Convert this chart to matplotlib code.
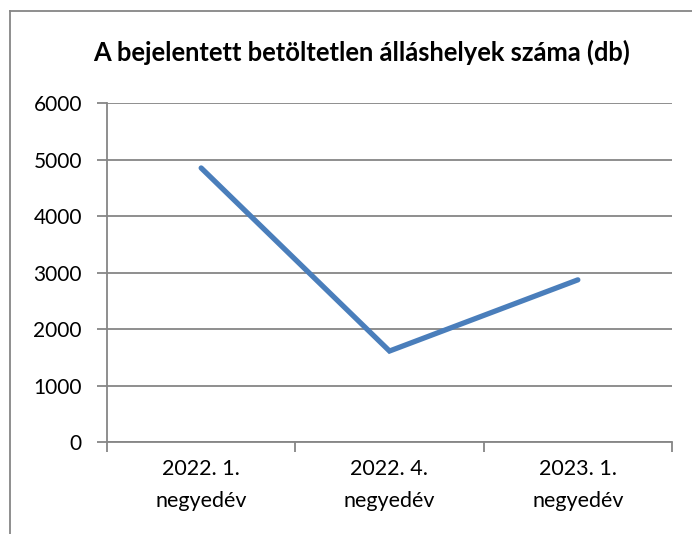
import matplotlib
matplotlib.use('Agg')
import matplotlib.pyplot as plt
from matplotlib.lines import Line2D

# data
categories = ['2022. 1.\nnegyedév', '2022. 4.\nnegyedév', '2023. 1.\nnegyedév']
values = [4850, 1610, 2870]
y_ticks = [0, 1000, 2000, 3000, 4000, 5000, 6000]
title = 'A bejelentett betöltetlen álláshelyek száma (db)'

plt.rcParams['font.family'] = ['Lato', 'DejaVu Sans']

fig = plt.figure(figsize=(6.92, 5.34), dpi=100)
ax = fig.add_axes([107 / 692, 1 - 442 / 534, 565 / 692, 339 / 534])

x = [0.5, 1.5, 2.5]
ax.plot(x, values, color='#4a7ebb', linewidth=3.8, solid_capstyle='round',
        solid_joinstyle='miter', zorder=3)

ax.set_xlim(0, 3)
ax.set_ylim(0, 6000)
ax.set_yticks(y_ticks)
ax.set_yticklabels([str(v) for v in y_ticks], fontsize=15)
ax.set_xticks([0, 1, 2, 3])
ax.set_xticklabels([])
ax.set_xticks(x, minor=True)
ax.set_xticklabels(categories, minor=True, fontsize=15.5, linespacing=1.8)
ax.tick_params(axis='x', which='minor', length=0, pad=12)
ax.tick_params(axis='both', which='major', length=7, width=1.3, color='#868686')
ax.tick_params(axis='y', pad=11)

ax.grid(axis='y', color='#868686', linewidth=1.3)
ax.set_axisbelow(True)
for side in ['top', 'right']:
    ax.spines[side].set_visible(False)
for side in ['left', 'bottom']:
    ax.spines[side].set_color('#868686')
    ax.spines[side].set_linewidth(1.3)

fig.text(362 / 692, 1 - 52 / 534, title, ha='center', va='center',
         fontsize=18.4, fontweight='bold')

# outer chart frame (cut off at the right and bottom)
fig.add_artist(Line2D([10 / 692, 1], [1 - 11 / 534, 1 - 11 / 534],
                      transform=fig.transFigure, color='#868686', linewidth=1.3))
fig.add_artist(Line2D([10 / 692, 10 / 692], [0, 1 - 11 / 534],
                      transform=fig.transFigure, color='#868686', linewidth=1.3))

fig.savefig('out.png', dpi=100)
